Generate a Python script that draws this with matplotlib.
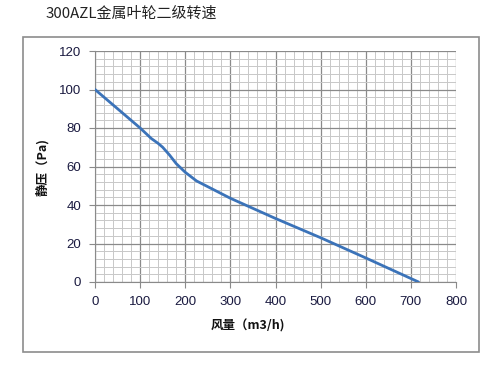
import matplotlib
matplotlib.use("Agg")
import matplotlib.pyplot as plt
from matplotlib.patches import Rectangle
from matplotlib.ticker import MultipleLocator

airflow = [0, 25, 50, 75, 100, 125, 140, 150, 165, 180, 200, 225, 250, 300, 400, 500, 600, 717]
pressure = [100, 95, 90, 85, 80, 74.5, 72, 70, 66, 61.5, 57, 52.5, 49.5, 43.5, 33, 23, 12.5, 0]
x_ticks = [0, 100, 200, 300, 400, 500, 600, 700, 800]
y_ticks = [0, 20, 40, 60, 80, 100, 120]
title = "300AZL金属叶轮二级转速"
xlabel = "风量（m3/h)"
ylabel = "静压（Pa)"

cjk = ["Noto Sans CJK SC", "DejaVu Sans"]

fig = plt.figure(figsize=(5, 3.7), dpi=100)
fig.patches.append(Rectangle((23/500, 1-352/370), (479-23)/500, (352-37)/370,
                             transform=fig.transFigure, fill=False,
                             edgecolor="#8c8c8c", linewidth=1.2))
ax = fig.add_axes([95/500, 1-282/370, (456-95)/500, (282-51)/370])

ax.set_xlim(0, 800)
ax.set_ylim(0, 120)
ax.set_xticks(x_ticks)
ax.set_yticks(y_ticks)
ax.xaxis.set_minor_locator(MultipleLocator(20))
ax.yaxis.set_minor_locator(MultipleLocator(4))
ax.grid(which="major", color="#8a8a8a", linewidth=0.9)
ax.grid(which="minor", color="#c8c8c8", linewidth=0.7)
ax.tick_params(which="minor", length=0)
ax.tick_params(which="major", length=4, color="#8a8a8a", labelsize=9.5,
               labelcolor="#1a1a40", pad=6)
for lab in ax.get_xticklabels() + ax.get_yticklabels():
    lab.set_family(["Liberation Sans", "DejaVu Sans"])
for s in ["top", "right"]:
    ax.spines[s].set_visible(False)
for s in ["left", "bottom"]:
    ax.spines[s].set_color("#8a8a8a")
ax.set_axisbelow(True)

ax.plot(airflow, pressure, color="#3b73b9", linewidth=2.0, solid_capstyle="round", zorder=3)

fig.text(46/500, 1-14/370, title, family=cjk, fontsize=10.8, va="center", ha="left", color="#222222")
fig.text(248/500, 1-326/370, xlabel, family=cjk, fontsize=9, fontweight="bold",
         va="center", ha="center", color="#111111")
fig.text(42/500, 1-167/370, ylabel, family=cjk, fontsize=9, fontweight="bold",
         va="center", ha="center", rotation=90, color="#111111")

fig.savefig("out.png", dpi=100)
